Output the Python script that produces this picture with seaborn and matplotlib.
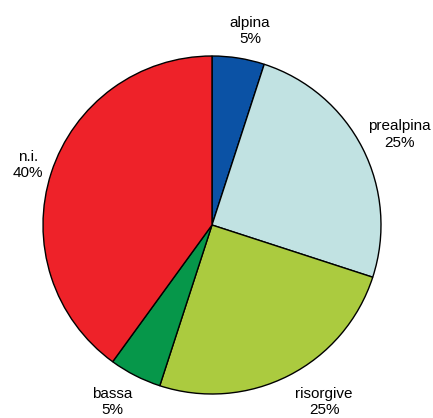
import numpy as np
import matplotlib
matplotlib.use('Agg')
import matplotlib.pyplot as plt
import seaborn as sns

sns.set_style('white')
plt.rcParams['font.family'] = ['Liberation Sans', 'DejaVu Sans']

categories = ['alpina', 'prealpina', 'risorgive', 'bassa', 'n.i.']
shares = [5, 25, 25, 5, 40]
colors = ['#0b52a5', '#c1e2e2', '#abcb3f', '#06974a', '#ee2229']
# label centres relative to the pie centre, in radius units
label_pos = [(0.225, 1.148), (1.107, 0.535), (0.663, -1.047), (-0.589, -1.047), (-1.089, 0.355)]

fig = plt.figure(figsize=(4.33, 4.18), dpi=100)
cx, cy, r = 212, 225, 169
ax = fig.add_axes([(cx - r) / 433, (418 - cy - r) / 418, 2 * r / 433, 2 * r / 418])

wedges, _ = ax.pie(shares, colors=colors, startangle=90, counterclock=False,
                   wedgeprops={'edgecolor': 'black', 'linewidth': 1.0})

for name, val, (x, y) in zip(categories, shares, label_pos):
    ax.text(x, y, f'{name}\n{val}%', ha='center', va='center',
            fontsize=11, color='black', linespacing=1.2, clip_on=False)

ax.set_xlim(-1, 1)
ax.set_ylim(-1, 1)
ax.axis('off')
fig.savefig('out.png', dpi=100)
